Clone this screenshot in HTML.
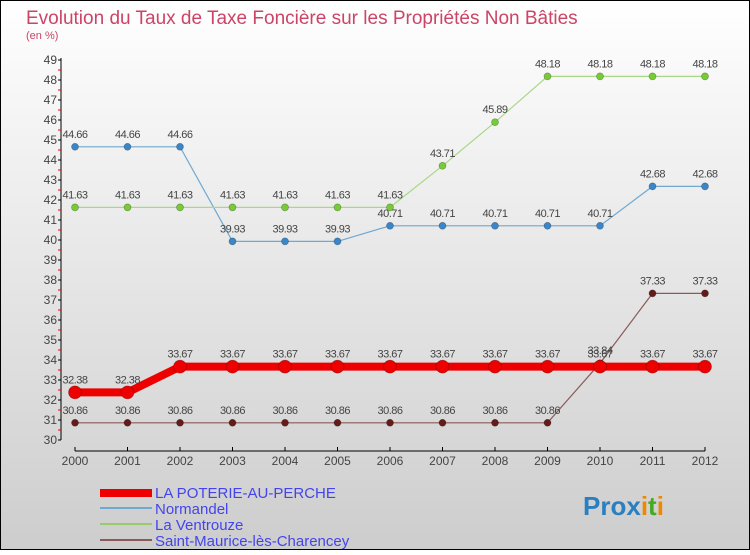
<!DOCTYPE html>
<html><head><meta charset="utf-8"><style>
body{margin:0;width:750px;height:550px;overflow:hidden;font-family:"Liberation Sans",sans-serif}
</style></head><body>
<svg width="750" height="550" xmlns="http://www.w3.org/2000/svg">
<defs><linearGradient id="bg" x1="0" y1="0" x2="0" y2="1"><stop offset="0" stop-color="#ffffff"/><stop offset="1" stop-color="#cdcdcd"/></linearGradient></defs>
<rect x="0" y="0" width="750" height="550" fill="url(#bg)"/>
<rect x="0.5" y="0.5" width="749" height="549" fill="none" stroke="#000"/>
<text x="26" y="24" font-size="19" fill="#cc4466">Evolution du Taux de Taxe Foncière sur les Propriétés Non Bâties</text>
<text x="26" y="39" font-size="11" fill="#cc4466">(en %)</text>
<g id="axes"></g>
<g id="series"></g>
<g>
<rect x="100" y="489" width="52" height="8" fill="#ee0000"/>
<rect x="100" y="507" width="52" height="2" fill="#6fa8d0"/>
<rect x="100" y="523" width="52" height="2" fill="#99cc66"/>
<rect x="100" y="539" width="52" height="2" fill="#8a5a5a"/>
<text x="155" y="498" font-size="15" fill="#4444ee">LA POTERIE-AU-PERCHE</text>
<text x="155" y="514" font-size="15" fill="#4444ee">Normandel</text>
<text x="155" y="530" font-size="15" fill="#4444ee">La Ventrouze</text>
<text x="155" y="546" font-size="15" fill="#4444ee">Saint-Maurice-lès-Charencey</text>
</g>
<text x="583" y="515" font-size="26" font-weight="bold"><tspan fill="#2a7fc0">Pro</tspan><tspan fill="#2a7fc0">x</tspan><tspan fill="#ee8800">i</tspan><tspan fill="#44aa22">t</tspan><tspan fill="#ee8800">i</tspan></text>
</svg>
<script>
const years=[2000,2001,2002,2003,2004,2005,2006,2007,2008,2009,2010,2011,2012];
const poterie=[32.38,32.38,33.67,33.67,33.67,33.67,33.67,33.67,33.67,33.67,33.67,33.67,33.67];
const normandel=[44.66,44.66,44.66,39.93,39.93,39.93,40.71,40.71,40.71,40.71,40.71,42.68,42.68];
const ventrouze=[41.63,41.63,41.63,41.63,41.63,41.63,41.63,43.71,45.89,48.18,48.18,48.18,48.18];
const stmaurice=[30.86,30.86,30.86,30.86,30.86,30.86,30.86,30.86,30.86,30.86,33.84,37.33,37.33];
const yTicks=[30,31,32,33,34,35,36,37,38,39,40,41,42,43,44,45,46,47,48,49];
const NS="http://www.w3.org/2000/svg";
const xs=i=>75+i*52.5;
const ys=v=>440-(v-30)*20;
function mk(tag,attrs,parent,txt){const e=document.createElementNS(NS,tag);for(const k in attrs)e.setAttribute(k,attrs[k]);if(txt!==undefined)e.textContent=txt;parent.appendChild(e);return e;}
const ax=document.getElementById('axes');
let l=mk('line',{x1:61,y1:ys(49)-2,x2:61,y2:ys(30),stroke:'#000'},ax);


yTicks.forEach(v=>{
 const t=mk('line',{x1:58,y1:ys(v),x2:61,y2:ys(v),stroke:'#000'},ax);
 
 
 if(v<49){const m=mk('line',{x1:58,y1:ys(v+0.5),x2:61,y2:ys(v+0.5),stroke:'#e00'},ax);
 
 }
 const tx=mk('text',{x:57,y:ys(v)+4,'font-size':12,'text-anchor':'end',fill:'#444'},ax,String(v));
 
 
});
l=mk('line',{x1:xs(0),y1:451,x2:xs(12),y2:451,stroke:'#000'},ax);


years.forEach((y,i)=>{
 const t=mk('line',{x1:xs(i),y1:447,x2:xs(i),y2:451,stroke:'#000'},ax);
 
 
 const tx=mk('text',{x:xs(i),y:465,'font-size':12,'text-anchor':'middle',fill:'#444'},ax,String(y));
 
 
});
const sg=document.getElementById('series');
function draw(data,name,color,dot,w,r){
 const g=mk('g',{},sg);
 
 
 const p=mk('polyline',{points:data.map((v,i)=>xs(i)+','+ys(v)).join(' '),fill:'none',stroke:color,'stroke-width':w},g);
 
 
 data.forEach((v,i)=>{
  const c=mk('circle',{cx:xs(i),cy:ys(v),r:r,fill:dot,stroke:'rgba(0,0,0,0.3)','stroke-width':0.7},g);
  
  
  const t=mk('text',{x:xs(i),y:ys(v)-9,'font-size':11,'text-anchor':'middle',fill:'#444','letter-spacing':'-0.5'},g,String(v));
  
  
 });
}
draw(normandel,'normandel','#6fa8d0','#3a86c8',1.2,3.5);
draw(ventrouze,'ventrouze','#a8d888','#77cc33',1.2,3.5);
draw(stmaurice,'saint-maurice','#8a5a5a','#661a1a',1.2,3.5);
draw(poterie,'poterie','#ee0000','#ee0000',8,6.5);
</script>
</body></html>
